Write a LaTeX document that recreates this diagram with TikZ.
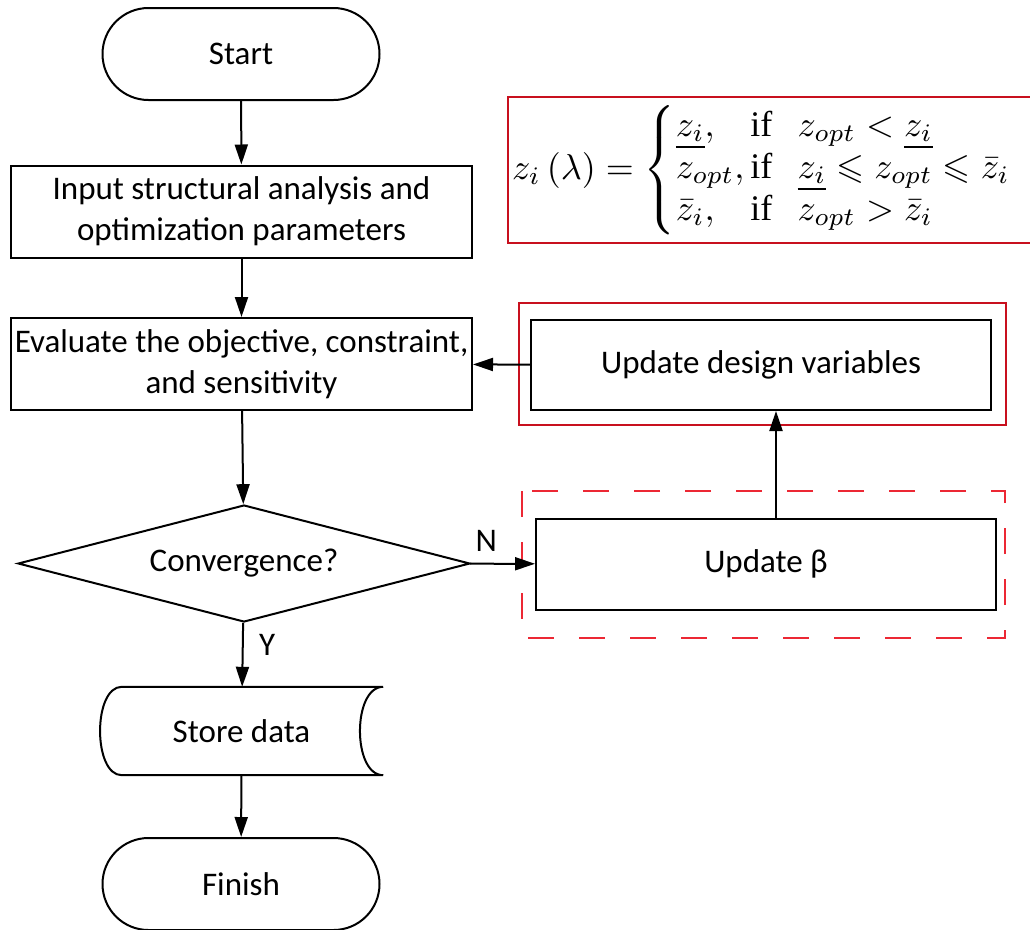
\documentclass[tikz,border=0pt]{standalone}
\usepackage{amsmath}
\usepackage{amssymb}
\usepackage{fontspec}
\setmainfont{Carlito}
\newfontfamily\serifrm{Liberation Serif}
\usetikzlibrary{shapes.geometric,shapes.misc,arrows.meta,positioning}

\definecolor{framered}{RGB}{200,16,30}
\definecolor{dashred}{RGB}{236,40,52}
\newcommand{\ifword}{\text{\serifrm if}}

\begin{document}
\begin{tikzpicture}[x=1pt, y=-1pt,
    every node/.style={font=\fontsize{33}{41}\selectfont},
    box/.style={draw, line width=2pt, align=center, inner sep=0pt},
    term/.style={box, rounded rectangle, minimum width=277pt, minimum height=92pt},
    proc/.style={box, rectangle, minimum width=461pt, minimum height=92pt},
    decision/.style={box, diamond, aspect=3.86, minimum width=452pt, minimum height=117pt},
    flow/.style={line width=2pt, -{Triangle[length=20pt,width=13pt]}}]
    \useasboundingbox (0,0) rectangle (1030,929);
    % main column
    \node[term] (start) at (241,54) {Start};
    \node[proc] (input) at (241.5,211.5) {Input structural analysis and\\optimization parameters};
    \node[proc] (eval) at (241.5,364) {Evaluate the objective, constraint,\\and sensitivity};
    \node[decision] (conv) at (244,563.5) {Convergence?};
    \node[inner sep=0pt, minimum width=283pt, minimum height=88pt] (store) at (241.5,731) {Store data};
    \draw[line width=2pt] (store.north east) -- ([xshift=22pt]store.north west)
        .. controls ([xshift=-7pt]store.north west) and ([xshift=-7pt]store.south west) .. ([xshift=22pt]store.south west)
        -- (store.south east)
        .. controls ([xshift=-31pt]store.south east) and ([xshift=-31pt]store.north east) .. (store.north east);
    \node[term] (finish) at (241,884) {Finish};
    % update loop
    \node[proc, minimum width=460pt, minimum height=91pt] (beta) at (766,564) {Update β};
    \node[proc, minimum width=460pt, minimum height=90pt] (udv) at (761,365) {Update design variables};
    \coordinate (up) at (776,0);
    \draw[framered, line width=1.6pt] (519,303) rectangle (1006,425);
    \draw[dashred, line width=1.6pt, dash pattern=on 26pt off 25pt] (522,491) rectangle (1005,638);
    % projection rule
    \draw[framered, line width=1.6pt] (508,97) rectangle (1045,243);
    \node[anchor=west, inner sep=0pt, font=\fontsize{10}{11.6}\selectfont] (law) at (512,170)
        {\scalebox{3.6}{$z_i\left(\lambda\right) = \left\{\begin{array}{@{}l@{\,}l@{\hspace{0.7em}}l@{}}
            \underline{z_i}, & \ifword & z_{opt} < \underline{z_i}\\
            z_{opt}, & \ifword & \underline{z_i} \leqslant z_{opt} \leqslant \bar{z}_i\\
            \bar{z}_i, & \ifword & z_{opt} > \bar{z}_i
        \end{array}\right.$}};
    % connectors
    \draw[flow] (start) -- (input);
    \draw[flow] (input) -- (eval);
    \draw[flow] (eval) -- (conv);
    \draw[flow] (conv) -- node[right, pos=0.35, xshift=12pt] {Y} (store);
    \draw[flow] (store) -- (finish);
    \draw[flow] (conv) -- node[above, pos=0.25, yshift=8pt] {N} (beta);
    \draw[flow] (beta.north -| up) -- (udv.south -| up);
    \draw[flow] (udv) -- (eval);
\end{tikzpicture}
\end{document}
